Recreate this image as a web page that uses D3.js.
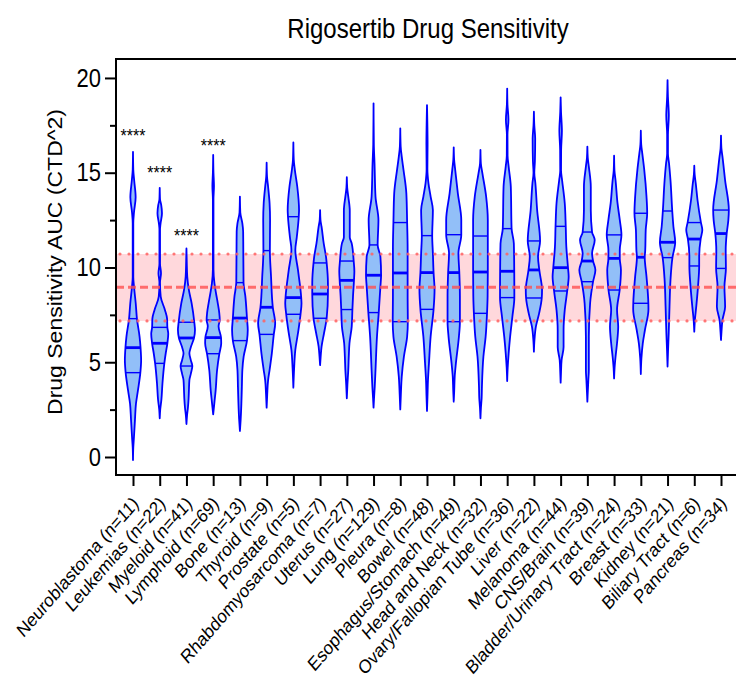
<!DOCTYPE html>
<html>
<head>
<meta charset="utf-8">
<script src="https://cdn.jsdelivr.net/npm/d3@7"></script>
<style>
  body { margin: 0; background: #fff; }
  text { font-family: "Liberation Sans", Arial, sans-serif; }
</style>
</head>
<body>
<div id="chart"></div>
<script>
const categories = ["Neuroblastoma (n=11)", "Leukemias (n=22)", "Myeloid (n=41)", "Lymphoid (n=69)",
  "Bone (n=13)", "Thyroid (n=9)", "Prostate (n=5)", "Rhabdomyosarcoma (n=7)", "Uterus (n=27)",
  "Lung (n=129)", "Pleura (n=8)", "Bowel (n=48)", "Esophagus/Stomach (n=49)", "Head and Neck (n=32)",
  "Ovary/Fallopian Tube (n=36)", "Liver (n=22)", "Melanoma (n=44)", "CNS/Brain (n=39)",
  "Bladder/Urinary Tract (n=24)", "Breast (n=33)", "Kidney (n=21)", "Biliary Tract (n=6)", "Pancreas (n=34)"];

const q1 = [4.45, 4.94, 4.8, 5.45, 6.14, 6.47, 7.53, 7.32, 7.78, 7.62, 7.14, 7.79, 7.14, 7.58, 8.41, 8.39, 8.76, 9.25, 8.81, 8.11, 10.52, 10.08, 9.95];
const medians = [5.77, 6.0, 6.28, 6.3, 7.33, 7.9, 8.41, 8.6, 9.32, 9.59, 9.71, 9.73, 9.73, 9.76, 9.8, 9.87, 9.99, 10.34, 10.48, 10.54, 11.33, 11.5, 11.79];
const q3 = [7.3, 6.84, 7.11, 7.23, 9.2, 10.89, 12.68, 10.24, 10.34, 11.19, 12.37, 11.68, 11.73, 11.66, 12.05, 11.4, 12.17, 11.87, 11.72, 12.86, 12.98, 12.37, 13.03];

// density profiles [value, relative density], from max down to min
const densities = [
  [[16.1,0],[15.15,0.3],[14.6,1.2],[13.7,2.7],[12.9,1.0],[12.33,0.3],[9.5,0.3],[9.0,1.0],[8.1,2.8],[7.3,4],[6.35,6.7],[5.77,7.7],[5.1,8.3],[4.45,7.5],[3.5,5],[2.8,3],[1.95,2],[1.07,1.0],[0.5,0.3],[-0.16,0]],
  [[14.2,0],[13.6,0.3],[13.3,1.5],[12.86,2.3],[12.3,0.8],[12.0,0.3],[10.2,0.3],[9.7,1.3],[9.2,0.3],[8.46,1.0],[7.76,5.3],[7.3,7.5],[6.84,7.8],[6.5,8.7],[6.0,7.8],[5.5,6.2],[4.94,4.7],[3.89,2.8],[3.02,1.7],[2.5,0.5],[2.04,0]],
  [[11.0,0],[10.3,0.3],[9.52,0.8],[8.8,2.5],[8.11,5.3],[7.11,8],[6.7,8.7],[6.28,7.7],[5.8,4.5],[5.47,3],[5.1,4.5],[4.8,6],[4.4,4.5],[4.06,3],[3.5,2.5],[3.1,2.2],[2.6,1.5],[2.2,0.6],[1.74,0]],
  [[15.94,0],[15.0,0.3],[14.3,0.8],[13.6,0.3],[9.9,0.3],[9.16,1.3],[8.6,3],[8.11,4.7],[7.6,6.2],[7.23,6.7],[6.9,5.5],[6.3,8],[6.0,8.2],[5.45,6.3],[4.59,4],[3.5,2.5],[2.9,1.3],[2.25,0]],
  [[13.74,0],[12.9,0.4],[12.33,2.5],[11.9,3.3],[10.5,3.5],[9.2,3.7],[8.5,5.5],[7.33,7.2],[6.7,8],[6.14,7.2],[5.29,3.8],[4.59,2.5],[3.7,2],[2.83,1.5],[2.0,0.8],[1.37,0]],
  [[15.53,0],[14.8,0.4],[14.26,1.5],[13.39,3],[12.5,3.5],[10.89,3.3],[9.51,4.5],[7.9,6.3],[7.05,8.7],[6.47,7.3],[5.47,5.3],[4.59,3],[4.06,1.5],[3.3,0.6],[2.6,0]],
  [[16.6,0],[15.7,0.4],[15.15,1.5],[14.26,4],[13.03,5.8],[12.68,5.5],[11.6,3.5],[10.92,2],[9.87,4.7],[8.41,8],[8.1,8.3],[7.53,7.3],[6.53,4.7],[5.65,2],[4.7,0.8],[3.66,0]],
  [[13.03,0],[12.5,0.4],[12.15,1.5],[11.27,3.7],[10.57,6],[10.24,6.7],[9.16,8],[8.6,8],[7.32,6.7],[6.53,4],[5.82,1.5],[5.3,0.6],[4.85,0]],
  [[14.76,0],[14.2,0.4],[13.74,1.5],[13.0,3],[11.6,3],[11.27,5],[10.34,7],[9.8,7.7],[9.32,7.3],[8.46,6.3],[7.78,5.7],[6.88,5],[6.0,2.7],[5.3,2],[4.59,1.5],[3.8,0.6],[3.1,0]],
  [[18.66,0],[16.5,0.3],[15.5,1],[13.74,2],[12.5,5],[11.19,4.2],[10.57,7],[9.59,7.7],[8.99,7],[7.62,5.3],[6.35,3.5],[4.59,2],[3.7,1.2],[3.1,0.5],[2.6,0]],
  [[17.34,0],[16.4,0.4],[15.85,1.5],[15.15,3.3],[13.91,6.2],[12.37,7],[11.0,7.5],[9.71,7.5],[8.5,7.5],[7.14,7.7],[6.35,7],[5.29,3.7],[4.24,1.5],[3.3,0.6],[2.51,0]],
  [[18.57,0],[17.5,0.4],[16.5,0.6],[15.2,0.4],[14.44,1.5],[13.74,3.7],[13.03,6],[11.68,5.3],[10.75,6],[9.73,6.7],[8.81,7.7],[7.79,6.7],[6.35,3.7],[4.94,2],[4.06,1],[3.2,0.5],[2.43,0]],
  [[16.34,0],[15.7,0.4],[15.15,1.5],[13.91,4.2],[12.51,7.7],[11.73,7.7],[10.75,4.8],[9.73,5.7],[8.5,6.3],[7.14,6.3],[6.35,5.3],[4.94,2.2],[4.24,1],[3.5,0.5],[2.92,0]],
  [[16.2,0],[15.5,0.4],[14.97,2],[13.74,5.8],[12.5,7.5],[11.66,7.5],[9.76,7.5],[8.5,7.3],[7.58,6.7],[6.35,5.3],[5.29,3],[3.71,1.5],[3.1,1.2],[2.6,0.5],[2.04,0]],
  [[19.44,0],[18.6,0.3],[17.8,1.3],[17.0,0.3],[15.9,0.4],[15.32,1.5],[14.26,3.7],[12.05,4.5],[11.27,6.8],[9.8,7.2],[8.41,7.3],[7.4,5.3],[6.35,3],[5.47,1.5],[4.7,0.5],[4.01,0]],
  [[18.22,0],[17.5,0.4],[16.8,1.3],[15.6,1.0],[15.0,0.4],[14.44,1.5],[13.03,3.3],[11.4,6.3],[10.57,4.2],[9.87,5.5],[8.81,8.3],[8.39,8],[7.58,5.3],[6.88,2],[6.2,0.6],[5.56,0]],
  [[18.98,0],[18.2,0.4],[17.2,1.3],[16.2,0.5],[15.1,0.4],[14.6,1.5],[13.39,4.2],[12.17,5.2],[11.1,5.8],[9.99,7.5],[9.52,8.2],[8.76,6.7],[7.76,4.2],[6.7,3],[5.8,3],[5.12,1],[4.5,0.4],[3.92,0]],
  [[16.38,0],[15.8,0.4],[15.32,1.5],[14.26,3.5],[13.0,3.5],[11.87,4.8],[11.45,7.5],[10.75,4.8],[10.34,5.8],[9.87,8.2],[9.25,5.8],[8.11,2.8],[6.35,1.5],[4.59,1.5],[4.06,1],[3.4,0.4],[2.92,0]],
  [[15.9,0],[15.1,0.4],[14.6,1.5],[13.39,3.5],[12.51,5.8],[11.72,7.5],[10.92,5.8],[10.48,5.8],[9.87,7],[8.81,5.7],[7.76,3],[6.88,4.2],[6.0,3],[5.29,1.5],[4.7,0.5],[4.15,0]],
  [[17.22,0],[16.5,0.4],[16.02,1.5],[15.15,3.5],[13.74,5.8],[12.86,6.5],[11.98,5],[10.9,4.5],[10.54,4],[9.52,5.8],[8.11,7.7],[7.8,7.8],[6.7,4.2],[6.0,2],[5.2,0.6],[4.38,0]],
  [[19.89,0],[19.0,0.4],[18.0,1.3],[17.0,0.4],[16.0,0.4],[15.5,1.5],[14.6,3],[12.98,4.8],[12.15,6],[11.33,7.8],[10.52,5],[9.34,3],[7.93,2],[6.53,1.2],[5.6,0.5],[4.77,0]],
  [[15.37,0],[14.9,0.4],[14.44,1.5],[13.56,3.3],[12.37,6.8],[11.98,8.2],[11.5,6.5],[10.57,5],[10.08,5],[8.99,3.8],[7.93,2],[7.2,0.6],[6.61,0]],
  [[16.96,0],[16.3,0.4],[15.85,1.5],[14.6,4.2],[13.03,8],[12.5,7.5],[11.79,5.8],[10.92,4.8],[9.95,5],[8.99,3.5],[7.93,4.2],[7.23,1.5],[6.6,0.5],[6.17,0]]
];

// reference band: mean and +/- 1 SD
const refMean = 8.96;
const refLow = 7.18;
const refHigh = 10.71;

const starCats = ["Neuroblastoma (n=11)", "Leukemias (n=22)", "Myeloid (n=41)", "Lymphoid (n=69)"];
const starValues = [17.13, 15.2, 11.89, 16.64];

const yTicks = [0, 5, 10, 15, 20];
const yMinorTicks = [2.5, 7.5, 12.5, 17.5];

const W = 736, H = 681;
const plot = { left: 116, right: 738, top: 59, bottom: 475 };
const sy = 1.15; // text in the source is stretched vertically

const svg = d3.select("#chart").append("svg")
  .attr("width", W)
  .attr("height", H);

const x = d3.scalePoint()
  .domain(categories)
  .range([plot.left + 17, plot.right - 17]);

const y = d3.scaleLinear()
  .domain([-0.95, 21])
  .range([plot.bottom, plot.top]);

const w = d3.scaleLinear().domain([0, 10]).range([0, 9.8]);

// band
svg.append("rect")
  .attr("x", plot.left)
  .attr("width", plot.right - plot.left)
  .attr("y", y(refHigh))
  .attr("height", y(refLow) - y(refHigh))
  .attr("fill", "#ffd8dc");

// violins
const area = d3.area()
  .curve(d3.curveMonotoneY)
  .y(d => y(d[0]));

function halfAt(prof, v) {
  for (let i = 0; i < prof.length - 1; i++) {
    const a = prof[i], b = prof[i + 1];
    if (v <= a[0] && v >= b[0]) {
      const t = (a[0] - v) / (a[0] - b[0]);
      return a[1] + t * (b[1] - a[1]);
    }
  }
  return 0;
}

const g = svg.append("g");
categories.forEach((c, i) => {
  const cx = x(c);
  const prof = densities[i];
  g.append("path")
    .datum(prof)
    .attr("d", area.x0(d => cx - w(d[1])).x1(d => cx + w(d[1])))
    .attr("fill", "#92bff8")
    .attr("stroke", "#0000ff")
    .attr("stroke-width", 1.8)
    .attr("stroke-linejoin", "round");

  [[q1[i], 1.4], [q3[i], 1.4], [medians[i], 2.8]].forEach(([v, sw]) => {
    const hw = w(halfAt(prof, v));
    g.append("line")
      .attr("x1", cx - hw).attr("x2", cx + hw)
      .attr("y1", y(v)).attr("y2", y(v))
      .attr("stroke", "#0000ff")
      .attr("stroke-width", sw);
  });
});

// reference lines drawn over
svg.append("line")
  .attr("x1", plot.left).attr("x2", plot.right)
  .attr("y1", y(refMean)).attr("y2", y(refMean))
  .attr("stroke", "#ff5050").attr("stroke-opacity", 0.8)
  .attr("stroke-width", 3)
  .attr("stroke-dasharray", "8,4");

[refLow, refHigh].forEach(v => {
  svg.append("line")
    .attr("x1", plot.left + 4).attr("x2", plot.right)
    .attr("y1", y(v)).attr("y2", y(v))
    .attr("stroke", "#ff6060").attr("stroke-opacity", 0.85)
    .attr("stroke-width", 3.2)
    .attr("stroke-linecap", "round")
    .attr("stroke-dasharray", "0,9");
});

// stars
starCats.forEach((c, i) => {
  svg.append("text")
    .attr("transform", `translate(${x(c)},${y(starValues[i])}) scale(1,${sy})`)
    .attr("dy", "0.55em")
    .attr("text-anchor", "middle")
    .style("font-size", "16px")
    .text("****");
});

// axes
const yAxis = svg.append("g")
  .attr("transform", `translate(${plot.left},0)`)
  .call(d3.axisLeft(y).tickValues(yTicks).tickSize(11).tickPadding(4));
yAxis.select(".domain").remove();
yAxis.selectAll("line").attr("stroke-width", 2);
yAxis.selectAll("text")
  .style("font-size", "22px")
  .attr("fill", "#000")
  .attr("transform", `scale(1,${sy})`);

const yMinor = svg.append("g")
  .attr("transform", `translate(${plot.left},0)`)
  .call(d3.axisLeft(y).tickValues(yMinorTicks).tickSize(6).tickFormat(""));
yMinor.select(".domain").remove();
yMinor.selectAll("line").attr("stroke-width", 2);

const xAxis = svg.append("g")
  .attr("transform", `translate(0,${plot.bottom})`)
  .call(d3.axisBottom(x).tickSize(11).tickFormat(""));
xAxis.select(".domain").remove();
xAxis.selectAll("line").attr("stroke-width", 2);
xAxis.selectAll(".tick").append("text")
  .attr("transform", `translate(2,25) scale(1,${sy}) rotate(-45)`)
  .attr("text-anchor", "end")
  .attr("dy", "0.35em")
  .attr("fill", "#000")
  .style("font-size", "16.6px")
  .text(d => d);

// frame
svg.append("path")
  .attr("d", `M${plot.right},${plot.top}H${plot.left}V${plot.bottom}H${plot.right}`)
  .attr("fill", "none")
  .attr("stroke", "#000")
  .attr("stroke-width", 2);

svg.append("text")
  .attr("transform", `translate(62,262) scale(1,${sy}) rotate(-90)`)
  .attr("text-anchor", "middle")
  .style("font-size", "20px")
  .text("Drug Sensitivity AUC (CTD^2)");

svg.append("text")
  .attr("transform", `translate(428,38) scale(1,${sy})`)
  .attr("text-anchor", "middle")
  .style("font-size", "24px")
  .text("Rigosertib Drug Sensitivity");
</script>
</body>
</html>
